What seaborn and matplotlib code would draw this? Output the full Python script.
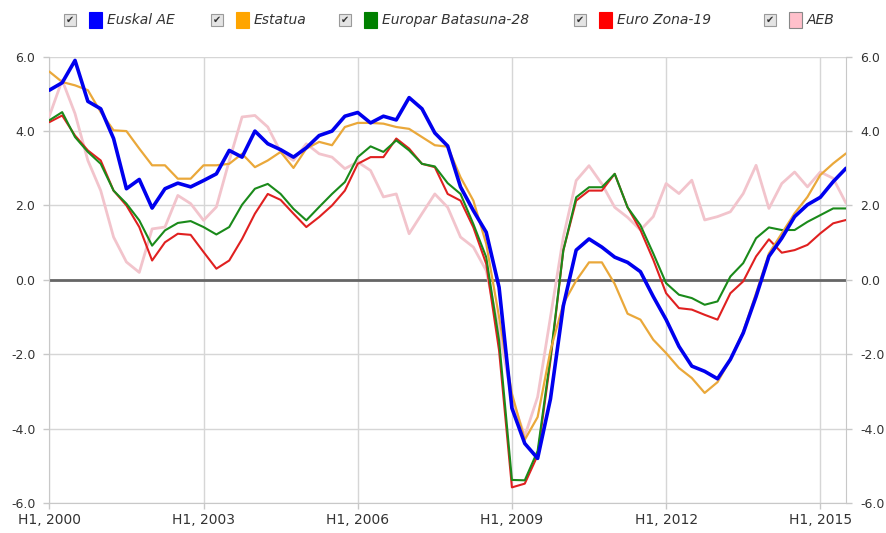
import numpy as np
import pandas as pd
import matplotlib
matplotlib.use("Agg")
import matplotlib.pyplot as plt
import seaborn as sns
from matplotlib.patches import Rectangle

# quarterly series, 2000Q1 .. 2015Q3
quarters = pd.period_range("2000Q1", "2015Q3", freq="Q")

euskal_ae = [5.1, 5.3, 5.9, 4.8, 4.6, 3.8, 2.45, 2.7, 1.93, 2.45,
             2.6, 2.5, 2.67, 2.85, 3.48, 3.3, 4.0, 3.66, 3.5, 3.3,
             3.55, 3.88, 4.0, 4.4, 4.5, 4.22, 4.4, 4.3, 4.9, 4.6,
             3.95, 3.6, 2.5, 1.86, 1.28, -0.2, -3.45, -4.4, -4.8, -3.2,
             -0.7, 0.8, 1.1, 0.88, 0.61, 0.47, 0.22, -0.45, -1.07, -1.79,
             -2.32, -2.46, -2.66, -2.14, -1.43, -0.45, 0.63, 1.12, 1.7, 2.02,
             2.22, 2.64, 3.0]
estatua = [5.6, 5.32, 5.23, 5.1, 4.51, 4.02, 4.0, 3.53, 3.08, 3.08,
           2.72, 2.72, 3.08, 3.08, 3.12, 3.39, 3.03, 3.21, 3.44, 3.01,
           3.53, 3.71, 3.62, 4.11, 4.22, 4.22, 4.2, 4.11, 4.06, 3.84,
           3.62, 3.58, 2.76, 2.13, 0.97, -1.0, -3.06, -4.3, -3.69, -1.9,
           -0.64, -0.02, 0.47, 0.47, -0.11, -0.91, -1.07, -1.61, -1.97, -2.37,
           -2.64, -3.04, -2.75, -2.14, -1.39, -0.36, 0.71, 1.25, 1.79, 2.23,
           2.82, 3.13, 3.4]
europar_28 = [4.29, 4.51, 3.84, 3.44, 3.12, 2.4, 2.05, 1.6, 0.92, 1.33,
              1.53, 1.58, 1.42, 1.22, 1.42, 2.02, 2.45, 2.58, 2.31, 1.91,
              1.6, 1.96, 2.31, 2.63, 3.3, 3.59, 3.44, 3.75, 3.48, 3.12,
              3.05, 2.6, 2.31, 1.5, 0.61, -1.63, -5.38, -5.39, -4.6, -2.08,
              0.79, 2.22, 2.49, 2.49, 2.85, 1.95, 1.47, 0.71, -0.09, -0.4,
              -0.49, -0.67, -0.58, 0.09, 0.45, 1.12, 1.41, 1.34, 1.34, 1.56,
              1.74, 1.92, 1.92]
euro_zona_19 = [4.24, 4.42, 3.88, 3.48, 3.21, 2.4, 2.0, 1.42, 0.52, 1.01,
                1.24, 1.21, 0.75, 0.3, 0.52, 1.1, 1.78, 2.31, 2.15, 1.78,
                1.42, 1.69, 2.0, 2.4, 3.12, 3.3, 3.3, 3.8, 3.53, 3.12,
                3.03, 2.31, 2.13, 1.41, 0.43, -1.9, -5.58, -5.48, -4.72, -2.17,
                0.79, 2.13, 2.4, 2.4, 2.85, 1.95, 1.34, 0.54, -0.36, -0.76,
                -0.8, -0.94, -1.07, -0.36, -0.04, 0.63, 1.09, 0.73, 0.8, 0.94,
                1.25, 1.52, 1.61]
aeb = [4.4, 5.37, 4.47, 3.21, 2.4, 1.15, 0.48, 0.2, 1.37, 1.42,
       2.27, 2.05, 1.6, 1.96, 3.2, 4.38, 4.42, 4.11, 3.44, 3.21,
       3.66, 3.39, 3.3, 2.99, 3.17, 2.94, 2.23, 2.31, 1.24, 1.78,
       2.31, 1.95, 1.15, 0.88, 0.25, -1.36, -3.2, -4.2, -3.15, -1.0,
       1.15, 2.67, 3.07, 2.58, 1.95, 1.68, 1.34, 1.7, 2.59, 2.32,
       2.68, 1.61, 1.7, 1.83, 2.32, 3.08, 1.92, 2.59, 2.9, 2.5,
       2.9, 2.73, 2.06]

series_names = ["Euskal AE", "Estatua", "Europar Batasuna-28", "Euro Zona-19", "AEB"]
series_values = [euskal_ae, estatua, europar_28, euro_zona_19, aeb]
series_colors = ["#0000ee", "#eaa83a", "#1a8a1a", "#e02020", "#f2c4cc"]
legend_colors = ["#0000ff", "#ffa500", "#008000", "#ff0000", "#ffc0cb"]
series_widths = [2.6, 1.6, 1.5, 1.5, 2.0]

tick_years = [2000, 2003, 2006, 2009, 2012, 2015]
y_ticks = [-6, -4, -2, 0, 2, 4, 6]


def main():
    sns.set_style("white")
    plt.rcParams["font.family"] = ["DejaVu Sans"]

    df = pd.DataFrame({"pos": np.arange(len(quarters))})
    for name, vals in zip(series_names, series_values):
        df[name] = vals

    fig = plt.figure(figsize=(8.87, 5.33), dpi=100)
    ax = fig.add_axes([0.0556, 0.0563, 0.8982, 0.8373])

    # pink first, blue on top
    for name, color, lw in reversed(list(zip(series_names, series_colors, series_widths))):
        sns.lineplot(data=df, x="pos", y=name, color=color, lw=lw, ax=ax, zorder=3)

    ax.axhline(0, color="#666666", lw=2, zorder=2)

    xt = [list(quarters.year).index(y) for y in tick_years]
    ax.set_xticks(xt)
    ax.set_xticklabels([f"H1, {y}" for y in tick_years])
    ax.set_yticks(y_ticks)
    ax.set_yticklabels([f"{v:.1f}" for v in y_ticks])
    ax.set_xlim(0, len(quarters) - 1)
    ax.set_ylim(-6, 6)
    ax.set_xlabel("")
    ax.set_ylabel("")

    ax.grid(True, color="#d6d6d6", lw=1, zorder=0)
    ax.set_axisbelow(True)
    ax.tick_params(axis="both", direction="out", length=4, width=1, color="#c8c8c8",
                   labelcolor="#333333")
    ax.tick_params(axis="x", bottom=True, pad=3, labelsize=10)
    ax.tick_params(axis="y", left=True, right=True, labelleft=True, labelright=True,
                   pad=6, labelsize=9)
    for side in ["left", "right", "bottom"]:
        ax.spines[side].set_color("#c8c8c8")
    ax.spines["top"].set_visible(False)

    # legend row with check boxes
    legend_x = [70, 217, 345, 580, 770]
    fy = 1 - 20 / 533
    for px, name, sq_c in zip(legend_x, series_names, legend_colors):
        fig.patches.append(Rectangle(((px - 6) / 887, (533 - 26) / 533), 12 / 887, 12 / 533,
                                     transform=fig.transFigure, facecolor="#e4e4e4",
                                     edgecolor="#9a9a9a", lw=0.8))
        fig.text(px / 887, fy, "\u2714", color="#333333", fontsize=7,
                 ha="center", va="center")
        fig.patches.append(Rectangle(((px + 19) / 887, (533 - 28) / 533), 13 / 887, 16 / 533,
                                     transform=fig.transFigure, facecolor=sq_c,
                                     edgecolor="#888888" if name == "AEB" else sq_c, lw=0.8))
        fig.text((px + 37) / 887, fy, name, color="#333333", fontsize=10,
                 style="italic", ha="left", va="center")

    fig.savefig("out.png", dpi=100)
    plt.close(fig)


if __name__ == "__main__":
    main()
